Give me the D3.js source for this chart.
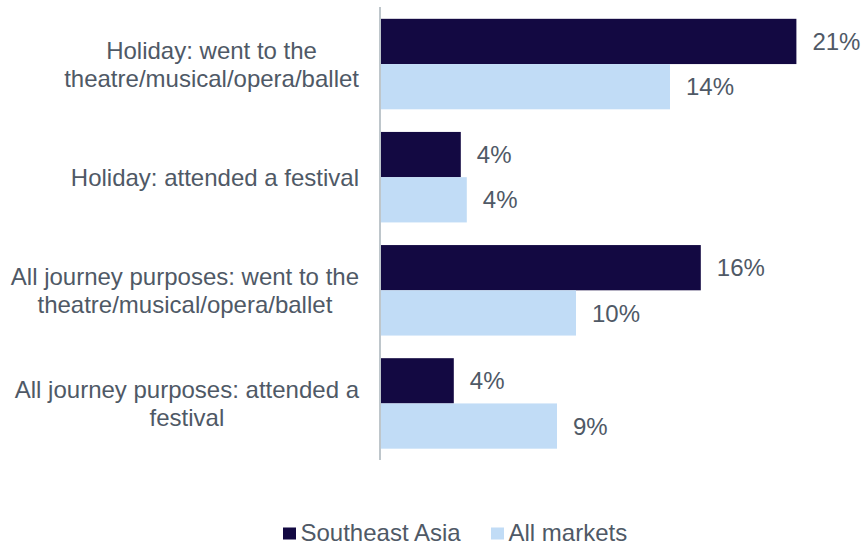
<!DOCTYPE html>
<html>
<head>
<meta charset="utf-8">
<script src="https://cdn.jsdelivr.net/npm/d3@7"></script>
<style>
  html, body { margin: 0; padding: 0; background: #ffffff; }
  svg { display: block; font-family: "Liberation Sans", Arial, sans-serif; }
</style>
</head>
<body>
<svg id="chart" width="861" height="545"></svg>
<script>
// Category labels (pre-wrapped lines)
const categories = [
  ["Holiday: went to the", "theatre/musical/opera/ballet"],
  ["Holiday: attended a festival"],
  ["All journey purposes: went to the", "theatre/musical/opera/ballet"],
  ["All journey purposes: attended a", "festival"]
];
const seriesNames = ["Southeast Asia", "All markets"];
const southeastAsia = [0.2077, 0.0399, 0.1599, 0.0364];
const allMarkets    = [0.1445, 0.0429, 0.0975, 0.0880];
const seriesColors  = ["#130942", "#c1dcf6"];

const textColor = "#4f5966";
const fontSize = 24;

const svg = d3.select("#chart");

const x0 = 381;
const x = d3.scaleLinear().domain([0, 0.22]).range([x0, x0 + 440]);
const y = d3.scaleBand()
  .domain(d3.range(categories.length))
  .range([7.5, 460])
  .paddingInner(0.2)
  .paddingOuter(0.1);
const ySub = d3.scaleBand().domain([0, 1]).range([0, y.bandwidth()]);

const series = [southeastAsia, allMarkets];
const fmt = d3.format(".0%");

// Bars and value labels
series.forEach((vals, s) => {
  const g = svg.append("g");
  g.selectAll("rect")
    .data(vals)
    .join("rect")
    .attr("x", x(0))
    .attr("y", (d, i) => y(i) + ySub(s))
    .attr("width", d => x(d) - x(0))
    .attr("height", ySub.bandwidth())
    .attr("fill", seriesColors[s]);
  g.selectAll("text")
    .data(vals)
    .join("text")
    .attr("x", d => x(d) + 16)
    .attr("y", (d, i) => y(i) + ySub(s) + ySub.bandwidth() / 2)
    .attr("dy", "0.36em")
    .attr("font-size", fontSize)
    .attr("fill", textColor)
    .text(d => fmt(d));
});

// Vertical category axis line
svg.append("line")
  .attr("x1", 380).attr("x2", 380)
  .attr("y1", 7).attr("y2", 460)
  .attr("stroke", "#a9b3ba")
  .attr("stroke-width", 1.5);

// Category labels: block right-aligned, lines centred within block
const labelRight = 359;
const lineGap = 28;
categories.forEach((lines, i) => {
  const g = svg.append("g");
  const t = g.selectAll("text")
    .data(lines)
    .join("text")
    .attr("font-size", fontSize)
    .attr("fill", textColor)
    .attr("text-anchor", "middle")
    .text(d => d);
  let maxW = 0;
  t.each(function () { maxW = Math.max(maxW, this.getComputedTextLength()); });
  const cx = labelRight - maxW / 2;
  const cy = y(i) + y.bandwidth() / 2;
  t.attr("x", cx)
   .attr("y", (d, j) => cy + (j - (lines.length - 1) / 2) * lineGap + 8.5);
});

// Legend
const legend = svg.append("g");
const legendX = [283, 491];
seriesNames.forEach((name, s) => {
  legend.append("rect")
    .attr("x", legendX[s]).attr("y", 527.5)
    .attr("width", 13).attr("height", 12)
    .attr("fill", seriesColors[s]);
  legend.append("text")
    .attr("x", legendX[s] + 17.5).attr("y", 540.5)
    .attr("font-size", fontSize)
    .attr("fill", textColor)
    .text(name);
});
</script>
</body>
</html>
